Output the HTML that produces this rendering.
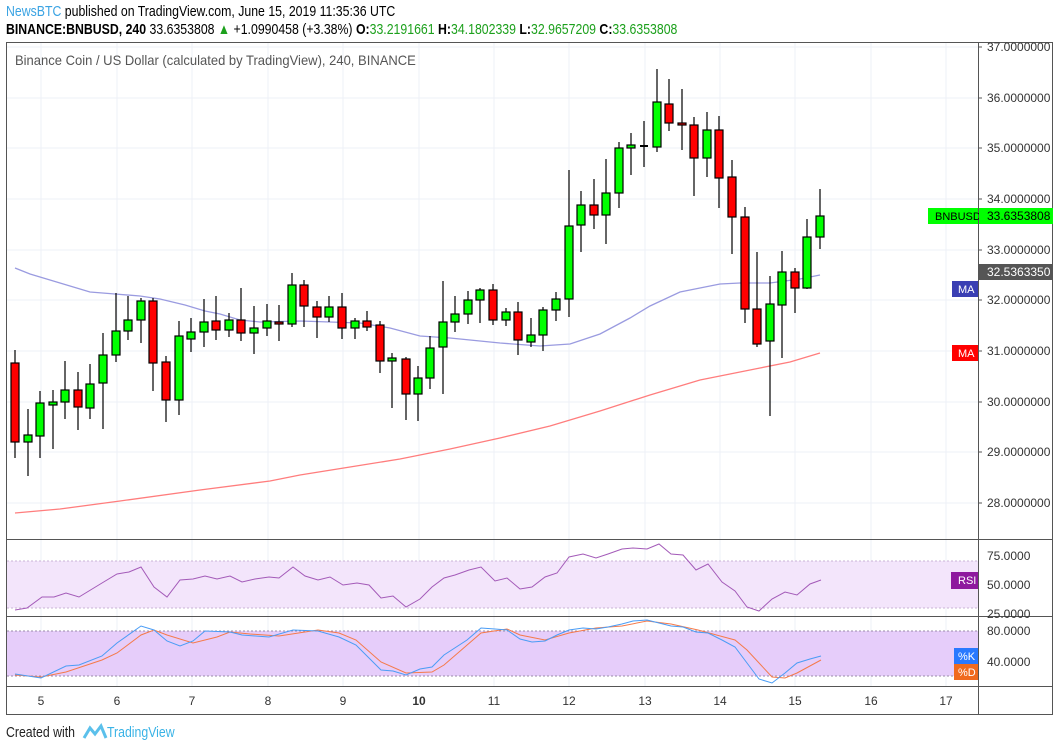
<!DOCTYPE html>
<html><head><meta charset="utf-8"><style>
body{margin:0;width:1060px;height:750px;background:#fff;overflow:hidden;font-family:"Liberation Sans",sans-serif;}
.h{position:absolute;left:6px;white-space:nowrap;transform-origin:left top;transform:scaleX(0.82);font-size:15px;color:#000}
</style></head><body>
<div class="h" style="top:3px"><span style="color:#3aa3e3">NewsBTC</span> published on TradingView.com, June 15, 2019 11:35:36 UTC</div>
<div class="h" style="top:21px"><b>BINANCE:BNBUSD, 240</b> 33.6353808 <span style="color:#1ca01c">▲</span> +1.0990458 (+3.38%) <b>O:</b><span style="color:#1ca01c">33.2191661</span> <b>H:</b><span style="color:#1ca01c">34.1802339</span> <b>L:</b><span style="color:#1ca01c">32.9657209</span> <b>C:</b><span style="color:#1ca01c">33.6353808</span></div>
<svg width="1060" height="750" style="position:absolute;left:0;top:0" font-family="Liberation Sans, sans-serif">
<g stroke="#eef1f7" stroke-width="1">
<line x1="41" y1="43" x2="41" y2="686"/><line x1="117" y1="43" x2="117" y2="686"/><line x1="192" y1="43" x2="192" y2="686"/><line x1="268" y1="43" x2="268" y2="686"/><line x1="343" y1="43" x2="343" y2="686"/><line x1="419" y1="43" x2="419" y2="686"/><line x1="494" y1="43" x2="494" y2="686"/><line x1="569" y1="43" x2="569" y2="686"/><line x1="645" y1="43" x2="645" y2="686"/><line x1="720" y1="43" x2="720" y2="686"/><line x1="795" y1="43" x2="795" y2="686"/><line x1="871" y1="43" x2="871" y2="686"/><line x1="946" y1="43" x2="946" y2="686"/>
<line x1="7" y1="47" x2="978" y2="47"/><line x1="7" y1="98" x2="978" y2="98"/><line x1="7" y1="148" x2="978" y2="148"/><line x1="7" y1="199" x2="978" y2="199"/><line x1="7" y1="250" x2="978" y2="250"/><line x1="7" y1="300" x2="978" y2="300"/><line x1="7" y1="351" x2="978" y2="351"/><line x1="7" y1="402" x2="978" y2="402"/><line x1="7" y1="452" x2="978" y2="452"/><line x1="7" y1="503" x2="978" y2="503"/>
</g>
<text x="15" y="65" font-size="14" fill="#555" transform="translate(15,0) scale(0.93,1) translate(-15,0)">Binance Coin / US Dollar (calculated by TradingView), 240, BINANCE</text>
<rect x="7" y="561" width="971" height="47" fill="#f3e5fb"/>
<line x1="7" y1="561" x2="978" y2="561" stroke="#c9b3d6" stroke-dasharray="2,2"/>
<line x1="7" y1="608" x2="978" y2="608" stroke="#c9b3d6" stroke-dasharray="2,2"/>
<rect x="7" y="631" width="971" height="45" fill="#e6cdfa"/>
<line x1="7" y1="631" x2="978" y2="631" stroke="#9a8aa8" stroke-dasharray="2,2"/>
<line x1="7" y1="676" x2="978" y2="676" stroke="#9a8aa8" stroke-dasharray="2,2"/>
<polyline fill="none" stroke="#9a9be0" stroke-width="1.3" points="15,268 30,274 60,283 90,292 115,294 140,296 160,299 185,305 205,311 220,314 240,320 260,322 300,321 330,322 360,323 390,328 420,336 450,338 500,343 540,346 570,344 600,334 630,318 650,306 680,292 720,284 740,283 770,283 800,279 820,275"/>
<polyline fill="none" stroke="#ff7d7d" stroke-width="1.3" points="15,513 60,509 120,501 200,490 270,481 300,475 350,467 400,459 450,449 500,438 550,426 600,411 650,395 700,380 730,374 760,368 790,362 820,353"/>
<g stroke="#000" stroke-width="1.2">
<g fill="#ff0000">
<line x1="15" y1="350" x2="15" y2="458"/><rect x="11" y="363" width="8" height="79"/>
<line x1="78" y1="372" x2="78" y2="430"/><rect x="74" y="390" width="8" height="17"/>
<line x1="153" y1="298" x2="153" y2="391"/><rect x="149" y="301" width="8" height="62"/>
<line x1="166" y1="356" x2="166" y2="422"/><rect x="162" y="362" width="8" height="38"/>
<line x1="216" y1="296" x2="216" y2="340"/><rect x="212" y="321" width="8" height="9"/>
<line x1="241" y1="288" x2="241" y2="341"/><rect x="237" y="320" width="8" height="13"/>
<line x1="279" y1="305" x2="279" y2="341"/><rect x="275" y="322" width="8" height="2"/>
<line x1="304" y1="280" x2="304" y2="327"/><rect x="300" y="285" width="8" height="21"/>
<line x1="317" y1="301" x2="317" y2="338"/><rect x="313" y="307" width="8" height="10"/>
<line x1="342" y1="293" x2="342" y2="339"/><rect x="338" y="307" width="8" height="21"/>
<line x1="367" y1="311" x2="367" y2="331"/><rect x="363" y="321" width="8" height="6"/>
<line x1="380" y1="321" x2="380" y2="373"/><rect x="376" y="325" width="8" height="36"/>
<line x1="406" y1="357" x2="406" y2="420"/><rect x="402" y="359" width="8" height="35"/>
<line x1="493" y1="284" x2="493" y2="325"/><rect x="489" y="290" width="8" height="30"/>
<line x1="518" y1="302" x2="518" y2="355"/><rect x="514" y="312" width="8" height="28"/>
<line x1="594" y1="179" x2="594" y2="229"/><rect x="590" y="205" width="8" height="10"/>
<line x1="669" y1="79" x2="669" y2="131"/><rect x="665" y="104" width="8" height="19"/>
<line x1="682" y1="89" x2="682" y2="150"/><rect x="678" y="123" width="8" height="2"/>
<line x1="694" y1="117" x2="694" y2="196"/><rect x="690" y="125" width="8" height="33"/>
<line x1="719" y1="116" x2="719" y2="208"/><rect x="715" y="130" width="8" height="48"/>
<line x1="732" y1="160" x2="732" y2="254"/><rect x="728" y="177" width="8" height="40"/>
<line x1="745" y1="207" x2="745" y2="323"/><rect x="741" y="217" width="8" height="92"/>
<line x1="757" y1="252" x2="757" y2="347"/><rect x="753" y="309" width="8" height="35"/>
<line x1="795" y1="268" x2="795" y2="313"/><rect x="791" y="272" width="8" height="16"/>
</g>
<g fill="#00ff00">
<line x1="28" y1="409" x2="28" y2="476"/><rect x="24" y="435" width="8" height="7"/>
<line x1="40" y1="391" x2="40" y2="458"/><rect x="36" y="403" width="8" height="33"/>
<line x1="53" y1="390" x2="53" y2="449"/><rect x="49" y="402" width="8" height="3"/>
<line x1="65" y1="361" x2="65" y2="419"/><rect x="61" y="390" width="8" height="12"/>
<line x1="90" y1="364" x2="90" y2="419"/><rect x="86" y="384" width="8" height="24"/>
<line x1="103" y1="333" x2="103" y2="429"/><rect x="99" y="355" width="8" height="28"/>
<line x1="116" y1="293" x2="116" y2="362"/><rect x="112" y="331" width="8" height="24"/>
<line x1="128" y1="296" x2="128" y2="340"/><rect x="124" y="320" width="8" height="11"/>
<line x1="141" y1="298" x2="141" y2="343"/><rect x="137" y="301" width="8" height="19"/>
<line x1="179" y1="321" x2="179" y2="415"/><rect x="175" y="336" width="8" height="64"/>
<line x1="191" y1="318" x2="191" y2="352"/><rect x="187" y="332" width="8" height="7"/>
<line x1="204" y1="299" x2="204" y2="347"/><rect x="200" y="322" width="8" height="10"/>
<line x1="229" y1="313" x2="229" y2="337"/><rect x="225" y="320" width="8" height="10"/>
<line x1="254" y1="306" x2="254" y2="354"/><rect x="250" y="328" width="8" height="5"/>
<line x1="267" y1="304" x2="267" y2="336"/><rect x="263" y="321" width="8" height="7"/>
<line x1="292" y1="273" x2="292" y2="327"/><rect x="288" y="285" width="8" height="39"/>
<line x1="329" y1="296" x2="329" y2="322"/><rect x="325" y="307" width="8" height="10"/>
<line x1="355" y1="318" x2="355" y2="339"/><rect x="351" y="321" width="8" height="7"/>
<line x1="392" y1="353" x2="392" y2="408"/><rect x="388" y="358" width="8" height="3"/>
<line x1="418" y1="366" x2="418" y2="421"/><rect x="414" y="378" width="8" height="16"/>
<line x1="430" y1="336" x2="430" y2="389"/><rect x="426" y="348" width="8" height="30"/>
<line x1="443" y1="281" x2="443" y2="394"/><rect x="439" y="322" width="8" height="25"/>
<line x1="455" y1="296" x2="455" y2="332"/><rect x="451" y="314" width="8" height="8"/>
<line x1="468" y1="291" x2="468" y2="324"/><rect x="464" y="300" width="8" height="14"/>
<line x1="480" y1="288" x2="480" y2="323"/><rect x="476" y="290" width="8" height="10"/>
<line x1="506" y1="308" x2="506" y2="326"/><rect x="502" y="312" width="8" height="8"/>
<line x1="531" y1="318" x2="531" y2="347"/><rect x="527" y="335" width="8" height="7"/>
<line x1="543" y1="307" x2="543" y2="351"/><rect x="539" y="310" width="8" height="25"/>
<line x1="556" y1="292" x2="556" y2="321"/><rect x="552" y="299" width="8" height="11"/>
<line x1="569" y1="170" x2="569" y2="317"/><rect x="565" y="226" width="8" height="73"/>
<line x1="581" y1="191" x2="581" y2="252"/><rect x="577" y="205" width="8" height="20"/>
<line x1="606" y1="159" x2="606" y2="244"/><rect x="602" y="193" width="8" height="22"/>
<line x1="619" y1="142" x2="619" y2="208"/><rect x="615" y="148" width="8" height="45"/>
<line x1="631" y1="133" x2="631" y2="175"/><rect x="627" y="145" width="8" height="3"/>
<line x1="657" y1="69" x2="657" y2="152"/><rect x="653" y="102" width="8" height="45"/>
<line x1="707" y1="112" x2="707" y2="177"/><rect x="703" y="130" width="8" height="28"/>
<line x1="770" y1="276" x2="770" y2="416"/><rect x="766" y="304" width="8" height="37"/>
<line x1="782" y1="251" x2="782" y2="358"/><rect x="778" y="272" width="8" height="33"/>
<line x1="807" y1="219" x2="807" y2="289"/><rect x="803" y="237" width="8" height="51"/>
<line x1="820" y1="189" x2="820" y2="249"/><rect x="816" y="216" width="8" height="21"/>
</g>
<line x1="644" y1="121" x2="644" y2="167"/><line x1="640" y1="146" x2="648" y2="146" stroke-width="2"/>
</g>
<polyline fill="none" stroke="#a35ab8" stroke-width="1" points="15,610 27,608 42,597 54,597 66,593 79,597 102,583 117,574 129,572 141,567 154,587 167,597 180,580 193,579 205,576 217,579 230,576 242,582 255,579 269,577 279,578 293,567 305,576 318,580 330,577 343,585 357,583 369,585 381,598 393,596 406,607 420,599 432,587 444,578 455,575 469,570 481,567 495,581 507,578 520,589 532,587 545,577 557,573 569,557 583,554 596,558 608,554 622,549 633,548 647,549 659,544 671,554 683,555 696,570 708,564 722,582 735,591 747,607 759,611 772,599 785,592 797,595 810,584 821,580"/>
<polyline fill="none" stroke="#f57a4a" stroke-width="1" points="15,675 41,677 66,672 102,660 117,653 141,635 154,630 167,635 193,643 217,637 230,632 250,634 279,636 318,630 339,633 356,640 381,662 406,673 432,672 444,665 481,633 507,629 520,635 545,640 569,633 596,628 622,626 647,621 671,624 698,630 735,640 747,650 772,677 785,678 797,673 821,660"/>
<polyline fill="none" stroke="#4a9cf5" stroke-width="1" points="15,674 41,678 66,666 79,665 102,656 117,643 141,626 154,630 167,641 180,646 193,641 205,631 230,632 242,635 269,637 293,630 318,631 339,637 356,645 381,670 393,671 406,675 420,669 432,667 444,655 467,640 481,628 495,629 507,630 520,639 532,642 545,641 557,635 569,630 583,628 596,629 608,627 622,624 633,621 647,620 659,623 671,626 683,627 696,632 708,633 722,640 735,647 747,663 759,679 772,683 785,673 797,663 810,659 821,656"/>
<rect x="6.5" y="42.5" width="1046" height="672" fill="none" stroke="#555"/>
<line x1="978.5" y1="42" x2="978.5" y2="715" stroke="#555"/>
<line x1="6" y1="539.5" x2="1053" y2="539.5" stroke="#555"/>
<line x1="6" y1="616.5" x2="1053" y2="616.5" stroke="#555"/>
<line x1="6" y1="686.5" x2="1053" y2="686.5" stroke="#555"/>
<g font-size="12" fill="#333">
<text x="987" y="51">37.0000000</text><text x="987" y="102">36.0000000</text><text x="987" y="152">35.0000000</text><text x="987" y="203">34.0000000</text><text x="987" y="254">33.0000000</text><text x="987" y="304">32.0000000</text><text x="987" y="355">31.0000000</text><text x="987" y="406">30.0000000</text><text x="987" y="456">29.0000000</text><text x="987" y="507">28.0000000</text>
<text x="987" y="560">75.0000</text><text x="987" y="589">50.0000</text><text x="987" y="618">25.0000</text>
<text x="987" y="635">80.0000</text><text x="987" y="666">40.0000</text>
</g>
<g stroke="#555"><line x1="978" y1="47" x2="982" y2="47"/><line x1="978" y1="98" x2="982" y2="98"/><line x1="978" y1="148" x2="982" y2="148"/><line x1="978" y1="199" x2="982" y2="199"/><line x1="978" y1="250" x2="982" y2="250"/><line x1="978" y1="300" x2="982" y2="300"/><line x1="978" y1="351" x2="982" y2="351"/><line x1="978" y1="402" x2="982" y2="402"/><line x1="978" y1="452" x2="982" y2="452"/><line x1="978" y1="503" x2="982" y2="503"/></g>
<rect x="928" y="208" width="50" height="16" fill="#00ff00"/><text x="935" y="220" font-size="11" fill="#000">BNBUSD</text>
<rect x="979" y="208" width="74" height="16" fill="#00ff00"/><text x="987" y="220" font-size="12" fill="#000">33.6353808</text>
<rect x="979" y="264" width="74" height="16" fill="#555"/><text x="987" y="276" font-size="12" fill="#fff">32.5363350</text>
<rect x="952" y="281" width="26" height="16" fill="#3a3fb3"/><text x="958" y="293" font-size="11" fill="#fff">MA</text>
<rect x="952" y="345" width="26" height="16" fill="#ff0000"/><text x="958" y="357" font-size="11" fill="#fff">MA</text>
<rect x="951" y="572" width="27" height="17" fill="#8e1a9e"/><text x="958" y="584" font-size="11" fill="#fff">RSI</text>
<rect x="954" y="648" width="24" height="16" fill="#2979ff"/><text x="958" y="660" font-size="11" fill="#fff">%K</text>
<rect x="954" y="664" width="24" height="16" fill="#f06a1e"/><text x="958" y="676" font-size="11" fill="#fff">%D</text>
<g font-size="12" fill="#333" text-anchor="middle">
<text x="41" y="705">5</text><text x="117" y="705">6</text><text x="192" y="705">7</text><text x="268" y="705">8</text><text x="343" y="705">9</text><text x="419" y="705" font-weight="bold">10</text><text x="494" y="705">11</text><text x="569" y="705">12</text><text x="645" y="705">13</text><text x="720" y="705">14</text><text x="795" y="705">15</text><text x="871" y="705">16</text><text x="946" y="705">17</text>
</g>
<text x="6" y="737" font-size="15" fill="#222" transform="translate(6,0) scale(0.82,1) translate(-6,0)">Created with</text>
<path d="M84 738 L90 728 L95 734 L101 726 L106 738" fill="none" stroke="#5bc0eb" stroke-width="3"/>
<text x="107" y="737" font-size="15" fill="#3ab3e6" transform="translate(107,0) scale(0.82,1) translate(-107,0)">TradingView</text>
</svg>
</body></html>
